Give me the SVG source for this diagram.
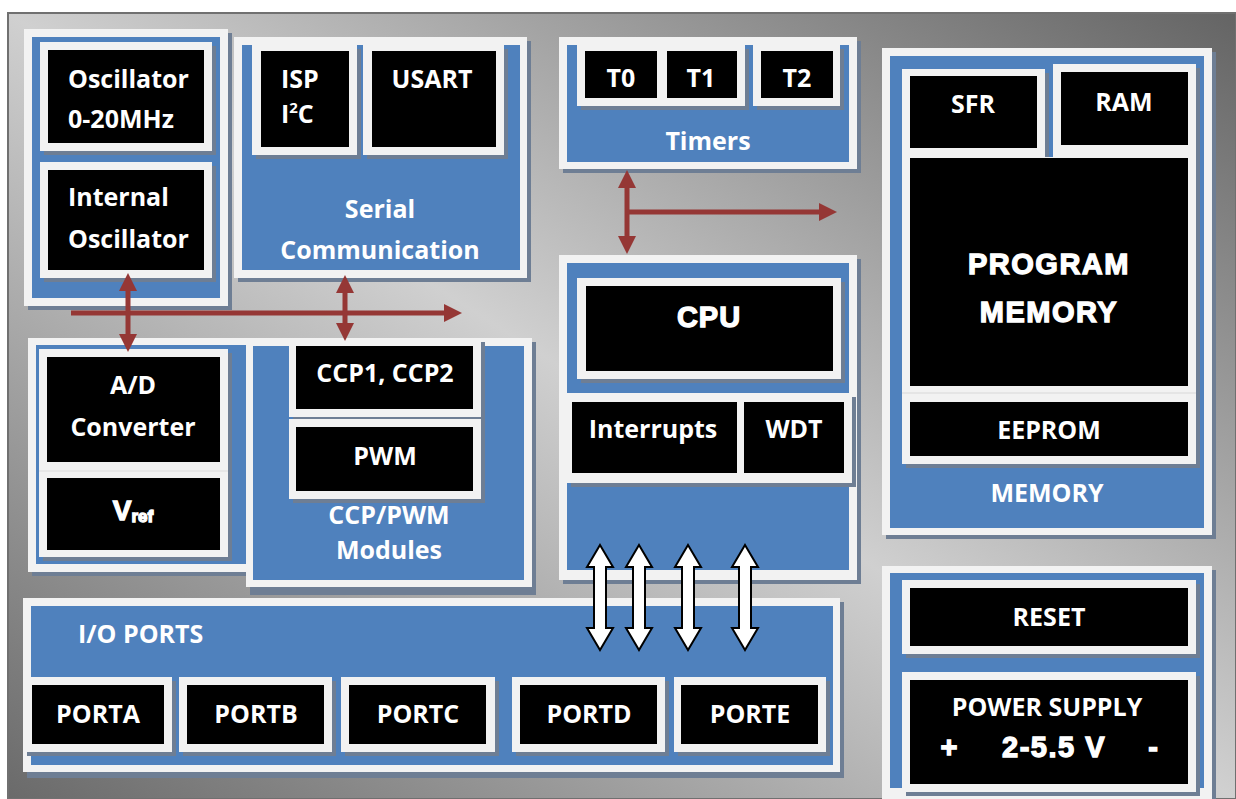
<svg xmlns="http://www.w3.org/2000/svg" width="1236" height="799" viewBox="0 0 1236 799">
<defs>
<linearGradient id="bg" x1="1" y1="0" x2="0" y2="1">
<stop offset="0" stop-color="#646464"/>
<stop offset="0.5" stop-color="#d0d0d0"/>
<stop offset="1" stop-color="#6a6a6a"/>
</linearGradient>
<marker id="ra" viewBox="0 0 18 18" refX="8" refY="9" markerWidth="18" markerHeight="18" markerUnits="userSpaceOnUse" orient="auto-start-reverse">
<path d="M0,0 L18,9 L0,18 Z" fill="#953735"/>
</marker>
<style>
.sh{fill:#6e7e94}
.wh{fill:#f2f2f2}
.bl{fill:#4f81bd}
.bk{fill:#000}
.t{font-family:"Open Sans","Liberation Sans",sans-serif;font-weight:700;font-size:25px;fill:#fff}
.m{text-anchor:middle}
.h{font-family:"Liberation Sans",Arial,sans-serif;font-weight:700;fill:#fff;stroke:#fff;stroke-width:1.3;text-anchor:middle}
.red{stroke:#953735;stroke-width:5;fill:none;marker-start:url(#ra);marker-end:url(#ra)}
.red1{stroke:#953735;stroke-width:5;fill:none;marker-end:url(#ra)}
.wa{fill:#fff;stroke:#000;stroke-width:2;stroke-linejoin:miter}
</style>
</defs>
<rect x="0" y="0" width="1236" height="799" fill="#fff"/>
<rect x="8" y="13" width="1228" height="786" fill="url(#bg)" stroke="#707070" stroke-width="2"/>

<g id="oscillator-panel">
<rect class="sh" x="28" y="33" width="204" height="277"/>
<rect class="wh" x="24" y="29" width="204" height="277"/>
<rect class="bl" x="32" y="37" width="188" height="261"/>
<rect class="sh" x="44" y="46" width="172" height="109"/>
<rect class="wh" x="40" y="42" width="172" height="109"/>
<rect class="bk" x="48" y="50" width="156" height="93"/>
<rect class="sh" x="44" y="166" width="172" height="116"/>
<rect class="wh" x="40" y="162" width="172" height="116"/>
<rect class="bk" x="48" y="170" width="156" height="100"/>
<text class="t" x="68" y="88">Oscillator</text>
<text class="t" x="68" y="128">0-20MHz</text>
<text class="t" x="68" y="206">Internal</text>
<text class="t" x="68" y="248">Oscillator</text>
</g>

<g id="serial-panel">
<rect class="sh" x="238" y="41" width="293" height="241"/>
<rect class="wh" x="234" y="37" width="293" height="241"/>
<rect class="bl" x="242" y="45" width="278" height="225"/>
<rect class="sh" x="256" y="49" width="105" height="110"/>
<rect class="wh" x="252" y="45" width="105" height="110"/>
<rect class="bk" x="261" y="51" width="88" height="96"/>
<rect class="sh" x="367" y="49" width="141" height="110"/>
<rect class="wh" x="363" y="45" width="141" height="110"/>
<rect class="bk" x="372" y="51" width="124" height="96"/>
<text class="t" x="281" y="88">ISP</text>
<text class="t" x="281" y="123">I<tspan font-size="15" dy="-10">2</tspan><tspan dy="10">C</tspan></text>
<text class="t m" x="432" y="88">USART</text>
<text class="t m" x="380" y="218">Serial</text>
<text class="t m" x="380" y="259">Communication</text>
</g>

<g id="timers-panel">
<rect class="sh" x="563" y="41" width="298" height="132"/>
<rect class="wh" x="559" y="37" width="298" height="132"/>
<rect class="bl" x="567" y="45" width="282" height="117"/>
<rect class="sh" x="581" y="49" width="168" height="61"/>
<rect class="sh" x="757" y="49" width="87" height="61"/>
<rect class="wh" x="577" y="45" width="168" height="61"/>
<rect class="wh" x="753" y="45" width="87" height="61"/>
<rect class="bk" x="585" y="51" width="72" height="47"/>
<rect class="bk" x="667" y="51" width="70" height="47"/>
<rect class="bk" x="761" y="51" width="72" height="47"/>
<text class="t m" x="621" y="87">T0</text>
<text class="t m" x="701" y="87">T1</text>
<text class="t m" x="797" y="87">T2</text>
<text class="t m" x="708" y="150">Timers</text>
</g>

<g id="cpu-panel">
<rect class="sh" x="563" y="259" width="298" height="325"/>
<rect class="wh" x="559" y="255" width="298" height="325"/>
<rect class="bl" x="567" y="263" width="282" height="307"/>
<rect class="sh" x="581" y="282" width="264" height="101"/>
<rect class="wh" x="577" y="278" width="264" height="101"/>
<rect class="bk" x="586" y="286" width="247" height="85"/>
<rect class="sh" x="571" y="397" width="285" height="90"/>
<rect class="wh" x="567" y="393" width="285" height="90"/>
<rect class="bk" x="572" y="402" width="165" height="71"/>
<rect class="bk" x="744" y="402" width="100" height="71"/>
<text class="h" x="709" y="327" font-size="29" letter-spacing="1">CPU</text>
<text class="t m" x="653" y="438">Interrupts</text>
<text class="t m" x="794" y="438">WDT</text>
</g>

<g id="memory-panel">
<rect class="sh" x="886" y="52" width="330" height="487"/>
<rect class="wh" x="882" y="48" width="330" height="487"/>
<rect class="bl" x="890" y="56" width="314" height="472"/>
<rect class="sh" x="906" y="73" width="143" height="90"/>
<rect class="sh" x="1057" y="68" width="143" height="95"/>
<rect class="sh" x="906" y="161" width="294" height="307"/>
<rect class="wh" x="902" y="69" width="143" height="90"/>
<rect class="wh" x="1053" y="64" width="143" height="95"/>
<rect class="wh" x="902" y="157" width="294" height="307"/>
<line x1="902" y1="393" x2="1196" y2="393" stroke="#d8d8d8" stroke-width="1"/>
<rect class="bk" x="910" y="76" width="127" height="72"/>
<rect class="bk" x="1061" y="72" width="127" height="73"/>
<rect class="bk" x="910" y="158" width="278" height="228"/>
<rect class="bk" x="910" y="402" width="278" height="54"/>
<text class="t m" x="973" y="113">SFR</text>
<text class="t m" x="1124" y="111">RAM</text>
<text class="h" x="1049" y="274" font-size="29" letter-spacing="1.5">PROGRAM</text>
<text class="h" x="1049" y="322" font-size="29" letter-spacing="1.5">MEMORY</text>
<text class="t m" x="1049" y="439">EEPROM</text>
<text class="t m" x="1047" y="502">MEMORY</text>
</g>

<g id="power-panel">
<rect class="sh" x="886" y="570" width="330" height="233"/>
<rect class="wh" x="882" y="566" width="330" height="233"/>
<rect class="bl" x="890" y="573" width="314" height="215"/>
<rect class="sh" x="906" y="584" width="294" height="74"/>
<rect class="wh" x="902" y="580" width="294" height="74"/>
<rect class="bk" x="910" y="588" width="278" height="58"/>
<rect class="sh" x="906" y="676" width="294" height="120"/>
<rect class="wh" x="902" y="672" width="294" height="120"/>
<rect class="bk" x="910" y="680" width="278" height="104"/>
<text class="t m" x="1049" y="626">RESET</text>
<text class="t m" x="1047" y="716">POWER SUPPLY</text>
<text class="h" x="949" y="757" font-size="29">+</text>
<text class="h" x="1054" y="757" font-size="29" letter-spacing="1.5">2-5.5 V</text>
<text class="h" x="1153" y="757" font-size="29">-</text>
</g>

<g id="ad-panel">
<rect class="sh" x="32" y="342" width="222" height="234"/>
<rect class="wh" x="28" y="338" width="222" height="234"/>
<rect class="bl" x="36" y="345" width="214" height="219"/>
<rect class="sh" x="43" y="353" width="189" height="208"/>
<rect class="wh" x="39" y="349" width="189" height="208"/>
<line x1="39" y1="471" x2="228" y2="471" stroke="#dcdcdc" stroke-width="1"/>
<rect class="bk" x="47" y="357" width="173" height="105"/>
<rect class="bk" x="47" y="478" width="173" height="72"/>
<text class="t m" x="133" y="394">A/D</text>
<text class="t m" x="133" y="436">Converter</text>
<text class="h" x="133" y="520" font-size="28">V<tspan font-size="17" dy="2">ref</tspan></text>
</g>

<g id="ccp-panel">
<rect class="sh" x="250" y="342" width="286" height="253"/>
<rect class="wh" x="246" y="338" width="286" height="249"/>
<rect class="bl" x="253" y="346" width="271" height="234"/>
<rect class="sh" x="293" y="342" width="192" height="161"/>
<rect class="wh" x="289" y="338" width="192" height="79"/>
<rect class="wh" x="289" y="419" width="192" height="80"/>
<rect class="bk" x="296" y="346" width="177" height="63"/>
<rect class="bk" x="296" y="427" width="177" height="64"/>
<text class="t m" x="385" y="382">CCP1, CCP2</text>
<text class="t m" x="385" y="465">PWM</text>
<text class="t m" x="389" y="524">CCP/PWM</text>
<text class="t m" x="389" y="559">Modules</text>
</g>

<g id="io-panel">
<rect class="sh" x="27" y="602" width="817" height="176"/>
<rect class="wh" x="23" y="598" width="817" height="174"/>
<rect class="bl" x="31" y="606" width="802" height="159"/>
<rect class="sh" x="27" y="681" width="149" height="75"/>
<rect class="sh" x="183" y="681" width="153" height="75"/>
<rect class="sh" x="345" y="681" width="154" height="75"/>
<rect class="sh" x="516" y="681" width="153" height="75"/>
<rect class="sh" x="678" y="681" width="152" height="75"/>
<rect class="wh" x="23" y="677" width="149" height="75"/>
<rect class="wh" x="179" y="677" width="153" height="75"/>
<rect class="wh" x="341" y="677" width="154" height="75"/>
<rect class="wh" x="512" y="677" width="153" height="75"/>
<rect class="wh" x="674" y="677" width="152" height="75"/>
<rect class="bk" x="32" y="685" width="132" height="59"/>
<rect class="bk" x="187" y="685" width="137" height="59"/>
<rect class="bk" x="349" y="685" width="137" height="59"/>
<rect class="bk" x="520" y="685" width="137" height="59"/>
<rect class="bk" x="681" y="685" width="137" height="59"/>
<text class="t" x="78" y="643">I/O PORTS</text>
<text class="t m" x="98" y="723">PORTA</text>
<text class="t m" x="256" y="723">PORTB</text>
<text class="t m" x="418" y="723">PORTC</text>
<text class="t m" x="589" y="723">PORTD</text>
<text class="t m" x="750" y="723">PORTE</text>
</g>

<g id="connectors">
<line class="red1" x1="71" y1="313" x2="452" y2="313"/>
<line class="red" x1="128" y1="283" x2="128" y2="342"/>
<line class="red" x1="345" y1="285" x2="345" y2="331"/>
<line class="red" x1="627" y1="180" x2="627" y2="244"/>
<line class="red1" x1="627" y1="212" x2="827" y2="212"/>
<path class="wa" d="M600,545 L613,567 L606,567 L606,628 L613,628 L600,650 L587,628 L594,628 L594,567 L587,567 Z"/>
<path class="wa" d="M639,545 L652,567 L645,567 L645,628 L652,628 L639,650 L626,628 L633,628 L633,567 L626,567 Z"/>
<path class="wa" d="M688,545 L701,567 L694,567 L694,628 L701,628 L688,650 L675,628 L682,628 L682,567 L675,567 Z"/>
<path class="wa" d="M745,545 L758,567 L751,567 L751,628 L758,628 L745,650 L732,628 L739,628 L739,567 L732,567 Z"/>
</g>
</svg>
